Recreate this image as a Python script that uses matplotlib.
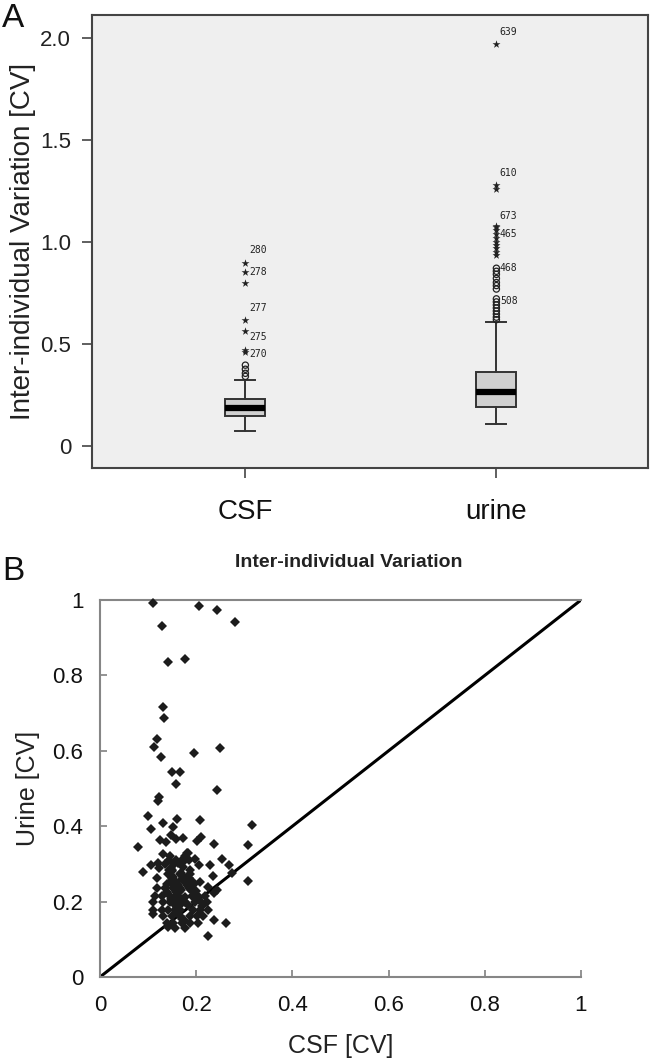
import matplotlib
matplotlib.use("Agg")
import matplotlib.pyplot as plt

plt.rcParams['font.family'] = ['Liberation Sans', 'DejaVu Sans']

# ---- panel A: box plot summary ---------------------------------------------
groups = ["CSF", "urine"]
q1 = [0.147, 0.191]
med = [0.185, 0.262]
q3 = [0.229, 0.363]
whislo = [0.072, 0.106]
whishi = [0.322, 0.608]

# SPSS style outliers: circles (>1.5 IQR) and stars (>3 IQR)
csf_circles = [0.34, 0.355, 0.375, 0.395]
csf_stars = [0.46, 0.47, 0.564, 0.616, 0.80, 0.853, 0.894]
urine_circles = [0.618, 0.63, 0.645, 0.66, 0.675, 0.69, 0.705, 0.72,
                 0.768, 0.785, 0.80, 0.82, 0.84, 0.855, 0.87]
urine_stars = [0.935, 0.95, 0.97, 0.985, 1.00, 1.02, 1.04, 1.055, 1.07,
               1.075, 1.26, 1.28, 1.97]

csf_labels = ["280", "278", "277", "275", "270"]
csf_label_y = [0.957, 0.853, 0.676, 0.533, 0.45]
urine_labels = ["639", "610", "673", "465", "468", "508"]
urine_label_y = [2.03, 1.336, 1.126, 1.04, 0.873, 0.71]

yticks_a = [0, 0.5, 1.0, 1.5, 2.0]
yticklabels_a = ["0", "0.5", "1.0", "1.5", "2.0"]

# ---- panel B: per-protein CV, CSF vs urine ----------------------------------
csf_cv = [0.110, 0.206, 0.243, 0.281, 0.128, 0.141, 0.177, 0.132, 0.134, 0.119,
          0.112, 0.126, 0.195, 0.249, 0.150, 0.166, 0.157, 0.243, 0.123, 0.120,
          0.100, 0.161, 0.208, 0.317, 0.105, 0.130, 0.152, 0.148, 0.159, 0.173,
          0.125, 0.137, 0.209, 0.201, 0.080, 0.236, 0.308, 0.180, 0.198, 0.254,
          0.144, 0.159, 0.170, 0.177, 0.184, 0.090, 0.105, 0.123, 0.229, 0.269,
          0.205, 0.142, 0.166, 0.187, 0.119, 0.234, 0.274, 0.307, 0.146, 0.159,
          0.177, 0.194, 0.208, 0.225, 0.243, 0.118, 0.135, 0.152, 0.166, 0.184,
          0.114, 0.128, 0.146, 0.163, 0.191, 0.204, 0.218, 0.236, 0.111, 0.132,
          0.146, 0.159, 0.177, 0.198, 0.211, 0.222, 0.111, 0.128, 0.142, 0.156,
          0.166, 0.194, 0.208, 0.225, 0.110, 0.132, 0.149, 0.166, 0.187, 0.201,
          0.215, 0.238, 0.261, 0.139, 0.152, 0.170, 0.187, 0.204, 0.156, 0.177,
          0.141, 0.224, 0.150, 0.172, 0.163, 0.139, 0.157, 0.182, 0.170, 0.148,
          0.135, 0.160, 0.190, 0.175, 0.153, 0.168, 0.145, 0.183,
          0.150, 0.158, 0.165, 0.172, 0.144, 0.152, 0.161, 0.168, 0.176, 0.155,
          0.163, 0.171, 0.147, 0.158, 0.180, 0.186, 0.140, 0.150, 0.162, 0.173,
          0.181, 0.196, 0.213, 0.130, 0.121, 0.188, 0.199, 0.167, 0.154, 0.176]
urine_cv = [0.991, 0.985, 0.973, 0.941, 0.932, 0.836, 0.843, 0.715, 0.687, 0.630,
            0.610, 0.584, 0.593, 0.607, 0.544, 0.544, 0.511, 0.497, 0.477, 0.468,
            0.427, 0.419, 0.416, 0.402, 0.393, 0.408, 0.397, 0.377, 0.366, 0.370,
            0.363, 0.358, 0.371, 0.362, 0.346, 0.352, 0.351, 0.328, 0.313, 0.312,
            0.311, 0.311, 0.311, 0.311, 0.311, 0.279, 0.297, 0.288, 0.297, 0.297,
            0.297, 0.272, 0.272, 0.272, 0.262, 0.268, 0.275, 0.255, 0.253, 0.253,
            0.253, 0.253, 0.253, 0.240, 0.231, 0.235, 0.235, 0.235, 0.235, 0.235,
            0.216, 0.216, 0.216, 0.216, 0.216, 0.216, 0.216, 0.224, 0.198, 0.198,
            0.198, 0.198, 0.198, 0.198, 0.198, 0.198, 0.179, 0.179, 0.179, 0.179,
            0.179, 0.179, 0.179, 0.179, 0.167, 0.163, 0.163, 0.163, 0.163, 0.163,
            0.163, 0.151, 0.144, 0.143, 0.143, 0.143, 0.143, 0.143, 0.129, 0.129,
            0.133, 0.110, 0.280, 0.265, 0.245, 0.225, 0.205, 0.190, 0.260, 0.290,
            0.300, 0.185, 0.230, 0.150, 0.210, 0.275, 0.320, 0.330,
            0.262, 0.244, 0.226, 0.208, 0.283, 0.266, 0.248, 0.230, 0.212, 0.190,
            0.171, 0.155, 0.207, 0.225, 0.244, 0.262, 0.248, 0.285, 0.303, 0.293,
            0.265, 0.248, 0.188, 0.325, 0.302, 0.283, 0.228, 0.190, 0.300, 0.320]
identity = [0, 1]
ticks_b = [0, 0.2, 0.4, 0.6, 0.8, 1]
ticklabels_b = ["0", "0.2", "0.4", "0.6", "0.8", "1"]

W, H = 651, 1061
fig = plt.figure(figsize=(W / 100, H / 100), dpi=100)

# ============================ panel A ========================================
axA = fig.add_axes([92 / W, 1 - 468 / H, 556 / W, 453 / H])
axA.set_facecolor("#efefef")
stats = [dict(label=g, med=m, q1=a, q3=b, whislo=lo, whishi=hi, fliers=[])
         for g, m, a, b, lo, hi in zip(groups, med, q1, q3, whislo, whishi)]
axA.bxp(stats, positions=[1, 2], widths=0.16, capwidths=0.08,
        patch_artist=True, showfliers=False,
        boxprops=dict(facecolor="#d0d0d0", edgecolor="#333333", linewidth=1.4),
        medianprops=dict(color="black", linewidth=4.5, solid_capstyle="butt"),
        whiskerprops=dict(color="#333333", linewidth=1.4),
        capprops=dict(color="#333333", linewidth=1.4))

for pos, circ, star, labs, laby in [(1, csf_circles, csf_stars, csf_labels, csf_label_y),
                                     (2, urine_circles, urine_stars, urine_labels, urine_label_y)]:
    axA.scatter([pos] * len(circ), circ, marker="o", s=20, facecolors="none",
                edgecolors="#222222", linewidths=0.9, zorder=4)
    axA.scatter([pos] * len(star), star, marker="*", s=36, color="#222222",
                linewidths=0, zorder=4)
    for t, y in zip(labs, laby):
        axA.annotate(t, xy=(pos, y), xytext=(2.5, 0), textcoords="offset points",
                     ha="left", va="center", fontsize=7, color="#222222",
                     family="DejaVu Sans Mono")

axA.set_xlim(0.389, 2.604)
axA.set_ylim(-0.109, 2.111)
axA.set_yticks(yticks_a)
axA.set_yticklabels(yticklabels_a)
axA.set_xticks([1, 2])
axA.set_xticklabels(groups)
axA.tick_params(axis="y", direction="out", length=7, width=1.2, color="#444444",
                labelsize=16, pad=8, labelcolor="#222222")
axA.tick_params(axis="x", direction="out", length=7, width=1.2, color="#444444",
                labelsize=20, pad=15, labelcolor="#111111")
for s in axA.spines.values():
    s.set_color("#444444")
    s.set_linewidth(1.5)
axA.set_ylabel("Inter-individual Variation [CV]", fontsize=20, color="#222222",
               labelpad=3)
fig.text(2 / W, 1 - 27 / H, "A", fontsize=24, color="#111111")

# ============================ panel B ========================================
axB = fig.add_axes([100 / W, 1 - 977 / H, 481 / W, 377 / H])
axB.plot(identity, identity, color="black", linewidth=2.2, zorder=2)
axB.plot(csf_cv, urine_cv, "D", markersize=5.5, color="#1c1c1c",
         markeredgewidth=0, zorder=3, clip_on=False)
axB.set_xlim(0, 1)
axB.set_ylim(0, 1)
axB.set_xticks(ticks_b)
axB.set_xticklabels(ticklabels_b)
axB.set_yticks(ticks_b)
axB.set_yticklabels(ticklabels_b)
axB.tick_params(direction="in", length=5, width=1.2, color="#808080",
                labelsize=16, labelcolor="#111111")
axB.tick_params(axis="y", pad=12)
axB.tick_params(axis="x", pad=13)
for s in axB.spines.values():
    s.set_color("#868686")
    s.set_linewidth(1.5)
axB.spines["right"].set_visible(False)
axB.set_title("Inter-individual Variation", fontsize=14, fontweight="bold",
              color="#222222", pad=24, x=0.518)
axB.set_xlabel("CSF [CV]", fontsize=18, color="#222222", labelpad=13)
axB.set_ylabel("Urine [CV]", fontsize=18, color="#222222", labelpad=9)
fig.text(2 / W, 1 - 580 / H, "B", fontsize=24, color="#111111")

fig.savefig("out.png", dpi=100)
